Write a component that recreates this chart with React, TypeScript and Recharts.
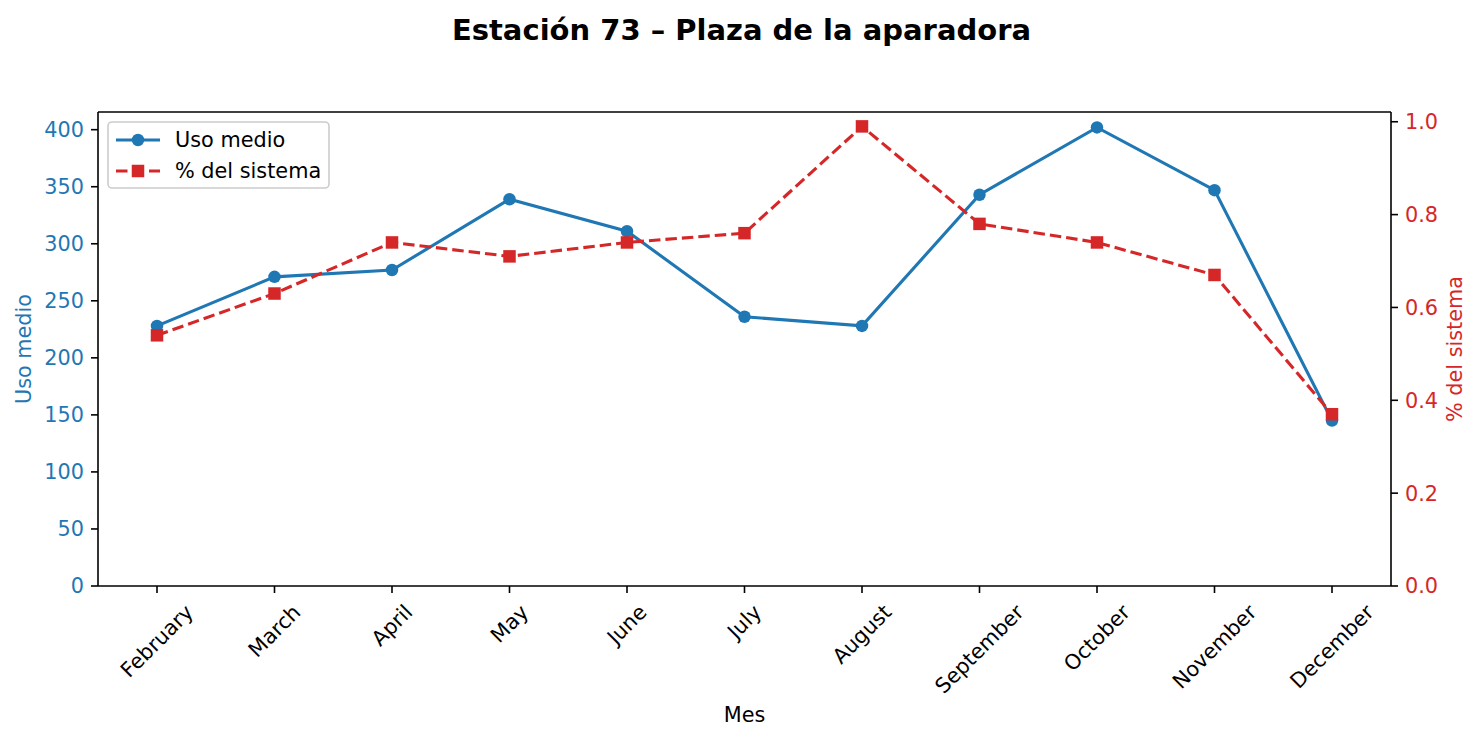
import React from 'react';
import { LineChart, Line, XAxis, YAxis } from 'recharts';

const months = ['February', 'March', 'April', 'May', 'June', 'July', 'August', 'September', 'October', 'November', 'December'];
const usoMedio = [228, 271, 277, 339, 311, 236, 228, 343, 402, 347, 145];
const pctSistema = [0.54, 0.63, 0.74, 0.71, 0.74, 0.76, 0.99, 0.78, 0.74, 0.67, 0.37];
const usoTicks = [0, 50, 100, 150, 200, 250, 300, 350, 400];
const pctTicks = [0, 0.2, 0.4, 0.6, 0.8, 1.0];

const data = months.map((mes, i) => ({ mes, uso: usoMedio[i], pct: pctSistema[i] }));

const BLUE = '#1f77b4';
const RED = '#d62728';
const FONT = '"DejaVu Sans", sans-serif';
const FS = 20.8;
const LW = 3.1;
const MS = 12.5;

const W = 1483;
const H = 740;

let ctx: CanvasRenderingContext2D | null = null;
const textWidth = (s: string) => {
  if (!ctx) ctx = document.createElement('canvas').getContext('2d');
  if (!ctx) return s.length * FS * 0.6;
  ctx.font = `${FS}px ${FONT}`;
  return ctx.measureText(s).width;
};

// rotated 45° month labels, centred under the tick like matplotlib's ha='center'
const MonthTick = (props: any) => {
  const { x, y, payload } = props;
  const label = String(payload.value);
  const half = (textWidth(label) + FS * 1.17) / (2 * Math.SQRT2);
  const cy = y + half;
  return (
    <text
      x={x}
      y={cy}
      textAnchor="middle"
      dominantBaseline="central"
      fontSize={FS}
      fontFamily={FONT}
      fill="#000"
      transform={`rotate(-45, ${x}, ${cy})`}
    >
      {label}
    </text>
  );
};

const SquareDot = (props: any) => {
  const { cx, cy, index } = props;
  if (cx == null || cy == null) return <g key={`sq-${index}`} />;
  return <rect key={`sq-${index}`} x={cx - MS / 2} y={cy - MS / 2} width={MS} height={MS} fill={RED} />;
};

const spine = { stroke: '#000', strokeWidth: 1.6 };

export default function App() {
  return (
    <div style={{ position: 'absolute', left: 0, top: 0, width: W, height: H, background: '#fff', fontFamily: FONT }}>
      <LineChart width={W} height={H} data={data} margin={{ top: 111, right: 12, bottom: 14, left: 14 }}>
        <XAxis
          xAxisId="top"
          orientation="top"
          dataKey="mes"
          height={1}
          scale="point"
          padding={{ left: 59, right: 59 }}
          tick={false}
          tickLine={false}
          axisLine={spine}
        />
        <XAxis
          xAxisId="bottom"
          dataKey="mes"
          height={140}
          scale="point"
          padding={{ left: 59, right: 59 }}
          interval={0}
          tickSize={7}
          tickMargin={7}
          tickLine={spine}
          axisLine={spine}
          tick={<MonthTick />}
        />
        <YAxis
          yAxisId="left"
          width={84}
          type="number"
          domain={[0, 415.5]}
          ticks={usoTicks}
          interval={0}
          tickSize={7}
          tickMargin={7}
          tickLine={spine}
          axisLine={spine}
          tick={{ fill: BLUE, fontSize: FS, fontFamily: FONT }}
        />
        <YAxis
          yAxisId="right"
          orientation="right"
          width={80}
          type="number"
          domain={[0, 1.021]}
          ticks={pctTicks}
          interval={0}
          tickFormatter={(v: number) => v.toFixed(1)}
          tickSize={7}
          tickMargin={7}
          tickLine={spine}
          axisLine={spine}
          tick={{ fill: RED, fontSize: FS, fontFamily: FONT }}
        />
        <Line
          xAxisId="bottom"
          yAxisId="left"
          type="linear"
          dataKey="uso"
          name="Uso medio"
          stroke={BLUE}
          strokeWidth={LW}
          dot={{ r: MS / 2, fill: BLUE, stroke: BLUE, strokeWidth: 0 }}
          isAnimationActive={false}
        />
        <Line
          xAxisId="bottom"
          yAxisId="right"
          type="linear"
          dataKey="pct"
          name="% del sistema"
          stroke={RED}
          strokeWidth={LW}
          strokeDasharray="11.5 5"
          dot={<SquareDot />}
          isAnimationActive={false}
        />
      </LineChart>

      {/* titles, axis labels and legend */}
      <svg width={W} height={H} style={{ position: 'absolute', left: 0, top: 0, pointerEvents: 'none' }} fontFamily={FONT}>
        <text x={741.5} y={40} textAnchor="middle" fontSize={29} fontWeight="bold" fill="#000">
          Estación 73 – Plaza de la aparadora
        </text>
        <text x={744.5} y={722} textAnchor="middle" fontSize={FS} fill="#000">Mes</text>
        <text x={24} y={349} textAnchor="middle" dominantBaseline="central" fontSize={FS} fill={BLUE} transform="rotate(-90, 24, 349)">
          Uso medio
        </text>
        <text x={1455} y={349} textAnchor="middle" dominantBaseline="central" fontSize={FS} fill={RED} transform="rotate(-90, 1455, 349)">
          % del sistema
        </text>

        <rect x={108} y={122} width={221} height={66} rx={4} fill="#fff" fillOpacity={0.8} stroke="#cccccc" strokeWidth={1.6} />
        <line x1={116} y1={140} x2={160} y2={140} stroke={BLUE} strokeWidth={LW} />
        <circle cx={138} cy={140} r={MS / 2} fill={BLUE} />
        <text x={175} y={140} dominantBaseline="central" fontSize={FS} fill="#000">Uso medio</text>
        <line x1={116} y1={171} x2={160} y2={171} stroke={RED} strokeWidth={LW} strokeDasharray="11.5 5" />
        <rect x={138 - MS / 2} y={171 - MS / 2} width={MS} height={MS} fill={RED} />
        <text x={175} y={171} dominantBaseline="central" fontSize={FS} fill="#000">% del sistema</text>
      </svg>
    </div>
  );
}
